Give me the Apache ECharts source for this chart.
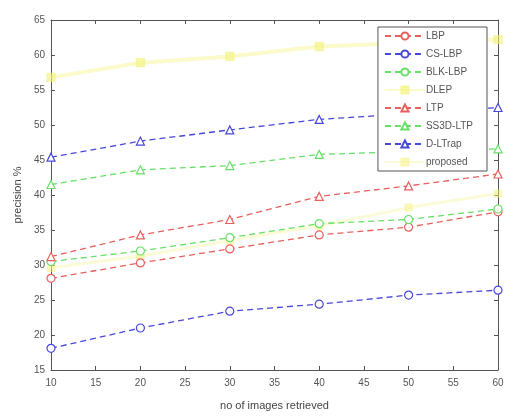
<!DOCTYPE html>
<html><head><meta charset="utf-8">
<script src="https://cdn.jsdelivr.net/npm/echarts@6/dist/echarts.min.js"></script>
<style>html,body{margin:0;padding:0;background:#fff}#c{width:507px;height:416px}</style>
</head><body><div id="c"></div>
<script>
const xs = [10, 20, 30, 40, 50, 60];
const LBP = [28.1, 30.3, 32.3, 34.3, 35.4, 37.6];
const CSLBP = [18.1, 21.0, 23.4, 24.4, 25.7, 26.4];
const BLKLBP = [30.5, 32.0, 33.9, 35.9, 36.5, 38.0];
const DLEP = [56.8, 58.9, 59.8, 61.2, 61.7, 62.2];
const LTP = [31.2, 34.3, 36.5, 39.8, 41.3, 43.0];
const SS3DLTP = [41.5, 43.6, 44.2, 45.8, 46.2, 46.6];
const DLTrap = [45.4, 47.7, 49.3, 50.8, 51.6, 52.5];
const proposed = [29.6, 31.3, 33.5, 35.6, 38.2, 40.2];
const xTicks = [10, 15, 20, 25, 30, 35, 40, 45, 50, 55, 60];
const yTicks = [15, 20, 25, 30, 35, 40, 45, 50, 55, 60, 65];

const RED = '#e8605c', BLUE = '#4848d8', GREEN = '#66e066', YEL = '#f4f27a';
function ser(name, data, color, symbol, opts) {
  opts = opts || {};
  return {
    name, type: 'line',
    data: data.map((v, i) => [xs[i], v]),
    symbol: symbol, symbolSize: opts.size || 8,
    showSymbol: true,
    itemStyle: { color: opts.fill || '#fff', borderColor: color, borderWidth: 1.2, opacity: opts.mop || 1 },
    lineStyle: { color: color, width: opts.lw || 1.3, type: opts.solid ? 'solid' : [6, 4], opacity: opts.op || 1 },
    emphasis: { disabled: true },
    z: opts.z || 3
  };
}
const chart = echarts.init(document.getElementById('c'), null, { renderer: 'canvas' });
const axisLine = { show: true, lineStyle: { color: '#555', width: 1 } };
const axisLabel = { color: '#555', fontSize: 10, fontFamily: 'Liberation Sans, Arial' };
chart.setOption({
  animation: false,
  backgroundColor: '#fff',
  grid: { left: 51, right: 9, top: 20, bottom: 46 },
  xAxis: [{
    type: 'value', min: 10, max: 60, interval: 5,
    name: 'no of images retrieved', nameLocation: 'middle', nameGap: 30,
    nameTextStyle: { color: '#444', fontSize: 11, fontFamily: 'Liberation Sans, Arial' },
    axisLine, axisTick: { show: true, inside: true, length: 4, lineStyle: { color: '#555' } },
    axisLabel: Object.assign({ margin: 8, formatter: v => xTicks.includes(v) ? String(v) : '' }, axisLabel),
    splitLine: { show: false }
  }, {
    type: 'value', min: 10, max: 60, interval: 5, position: 'top',
    axisLine, axisTick: { show: true, inside: true, length: 4, lineStyle: { color: '#555' } },
    axisLabel: { show: false }, splitLine: { show: false }
  }],
  yAxis: [{
    type: 'value', min: 15, max: 65, interval: 5,
    name: 'precision %', nameLocation: 'middle', nameGap: 28,
    nameTextStyle: { color: '#444', fontSize: 11, fontFamily: 'Liberation Sans, Arial' },
    axisLine, axisTick: { show: true, inside: true, length: 4, lineStyle: { color: '#555' } },
    axisLabel: Object.assign({ margin: 6, formatter: v => yTicks.includes(v) ? String(v) : '' }, axisLabel),
    splitLine: { show: false }
  }, {
    type: 'value', min: 15, max: 65, interval: 5, position: 'right',
    axisLine, axisTick: { show: true, inside: true, length: 4, lineStyle: { color: '#555' } },
    axisLabel: { show: false }, splitLine: { show: false }
  }],
  legend: {
    orient: 'vertical', right: 20, top: 27,
    backgroundColor: '#fff', borderColor: '#555', borderWidth: 1,
    padding: [4, 14, 4, 6], itemGap: 8, itemWidth: 40, itemHeight: 9,
    textStyle: { color: '#555', fontSize: 10, fontFamily: 'Liberation Sans, Arial', padding: [0, 0, 0, -4] },
    data: ['LBP', 'CS-LBP', 'BLK-LBP', 'DLEP', 'LTP', 'SS3D-LTP', 'D-LTrap', 'proposed']
  },
  series: [
    ser('LBP', LBP, RED, 'circle'),
    ser('CS-LBP', CSLBP, BLUE, 'circle'),
    ser('BLK-LBP', BLKLBP, GREEN, 'circle'),
    ser('DLEP', DLEP, YEL, 'rect', { fill: YEL, size: 8, lw: 4, op: 0.4, mop: 0.6, solid: true, z: 2 }),
    ser('LTP', LTP, RED, 'triangle'),
    ser('SS3D-LTP', SS3DLTP, GREEN, 'triangle'),
    ser('D-LTrap', DLTrap, BLUE, 'triangle'),
    ser('proposed', proposed, YEL, 'rect', { fill: YEL, size: 7, lw: 3, op: 0.3, mop: 0.45, solid: true, z: 2 })
  ]
});
</script></body></html>
